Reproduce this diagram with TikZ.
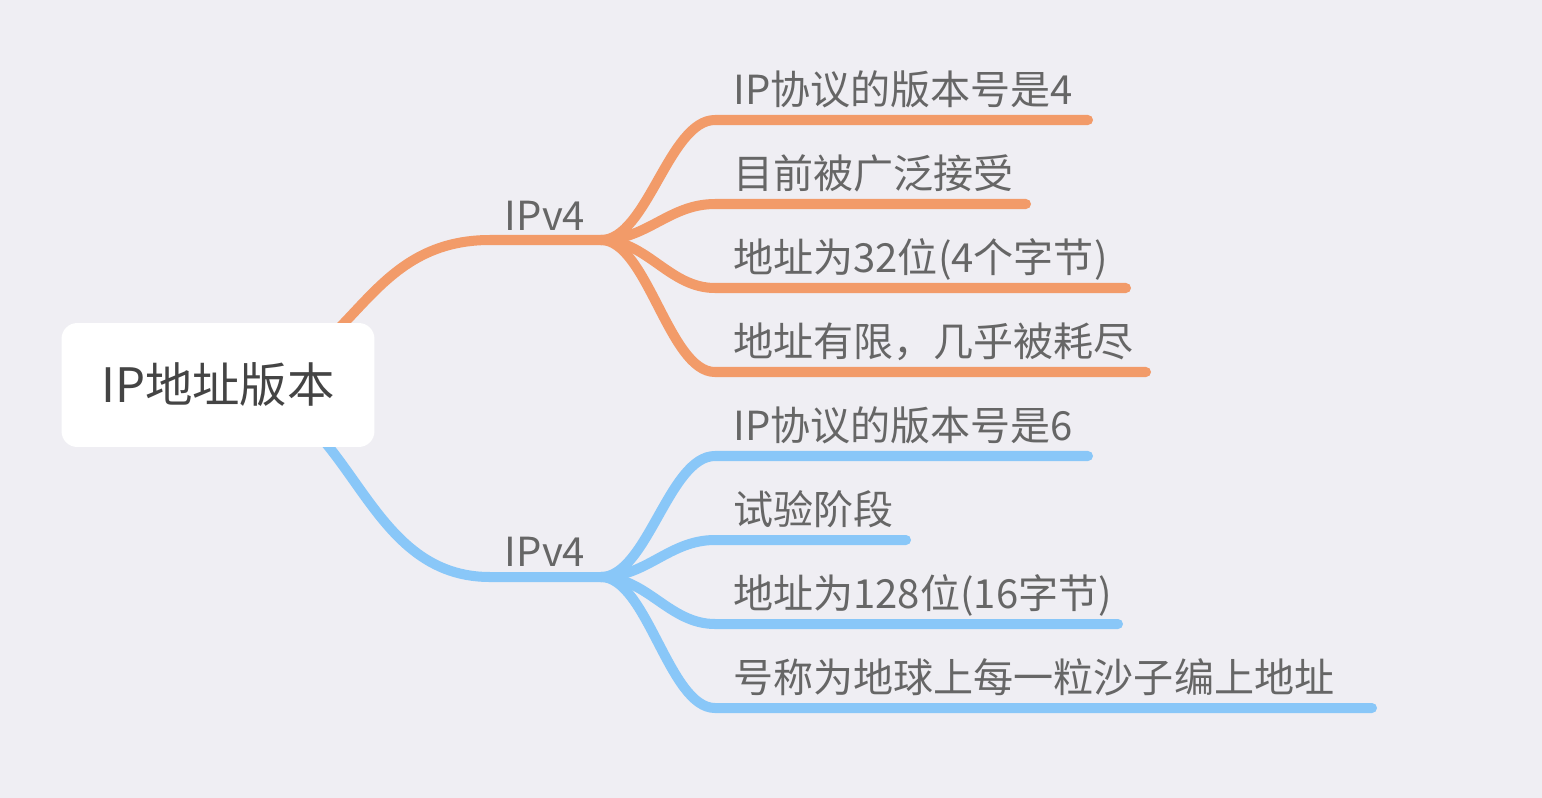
\documentclass[tikz,border=0pt]{standalone}
\usepackage{fontspec}
\newfontfamily\cjk{Noto Sans CJK SC}
\usetikzlibrary{calc}
\definecolor{bgcol}{HTML}{EFEEF3}
\definecolor{orangeline}{HTML}{F29B69}
\definecolor{blueline}{HTML}{89C7F8}
\definecolor{leafgray}{HTML}{666666}
\definecolor{rootgray}{HTML}{444444}
\pgfdeclarelayer{back}
\pgfdeclarelayer{links}
\pgfsetlayers{back,links,main}
\tikzset{
	rootbox/.style={fill=white, rounded corners=9pt, minimum width=6.26cm, minimum height=2.48cm, inner sep=0pt, text=rootgray, font=\cjk\fontsize{27}{30}\selectfont},
	branchlabel/.style={anchor=base, inner sep=0pt, text=leafgray, font=\cjk\fontsize{22.8}{27}\selectfont},
	leaf/.style={anchor=base west, inner sep=0pt, text=leafgray, font=\cjk\fontsize{22.8}{27}\selectfont},
	link/.style={line width=5.7pt, line cap=round},
}
\begin{document}
\begin{tikzpicture}[x=0.02cm,y=-0.02cm]
		\begin{pgfonlayer}{back}
			\fill[bgcol] (0,0) rectangle (1542,798);
		\end{pgfonlayer}
		\useasboundingbox (0,0) rectangle (1542,798);
	
		\node[rootbox] (root) at (218,385) {IP地址版本};
		
		\node[branchlabel] (v4label) at (545,230) {IPv4};
		\node[branchlabel] (v6label) at (545,566) {IPv4};
		\coordinate (v4mid) at (490,240);
		\coordinate (v4) at (601,240);
		\coordinate (v6mid) at (490,577);
		\coordinate (v6) at (601,577);
		
		\node[leaf] (a1) at (733,104) {IP协议的版本号是4};
		\node[leaf] (a2) at (733,188) {目前被广泛接受};
		\node[leaf] (a3) at (733,272) {地址为32位(4个字节)};
		\node[leaf] (a4) at (733,356) {地址有限，几乎被耗尽};
		
		\node[leaf] (b1) at (733,440) {IP协议的版本号是6};
		\node[leaf] (b2) at (733,524) {试验阶段};
		\node[leaf] (b3) at (733,608) {地址为128位(16字节)};
		\node[leaf] (b4) at (733,692) {号称为地球上每一粒沙子编上地址};
		
		\begin{pgfonlayer}{links}
			\draw[link, orangeline] (root.center) .. controls +(136,0) and +(-136,0) .. (v4mid) -- (v4);
			\draw[link, blueline] (root.center) .. controls +(136,0) and +(-136,0) .. (v6mid) -- (v6);
			
			\draw[link, orangeline] (v4) .. controls +(46,0) and +(-46,0) .. ($(a1.base west)+(-18,16)$) -- ++(373,0);
			\draw[link, orangeline] (v4) .. controls +(46,0) and +(-46,0) .. ($(a2.base west)+(-18,16)$) -- ++(311,0);
			\draw[link, orangeline] (v4) .. controls +(46,0) and +(-46,0) .. ($(a3.base west)+(-18,16)$) -- ++(411,0);
			\draw[link, orangeline] (v4) .. controls +(46,0) and +(-46,0) .. ($(a4.base west)+(-18,16)$) -- ++(431,0);
			
			\draw[link, blueline] (v6) .. controls +(46,0) and +(-46,0) .. ($(b1.base west)+(-18,16)$) -- ++(373,0);
			\draw[link, blueline] (v6) .. controls +(46,0) and +(-46,0) .. ($(b2.base west)+(-18,16)$) -- ++(191,0);
			\draw[link, blueline] (v6) .. controls +(46,0) and +(-46,0) .. ($(b3.base west)+(-18,16)$) -- ++(403,0);
			\draw[link, blueline] (v6) .. controls +(46,0) and +(-46,0) .. ($(b4.base west)+(-18,16)$) -- ++(657,0);
		\end{pgfonlayer}
	\end{tikzpicture}
\end{document}
